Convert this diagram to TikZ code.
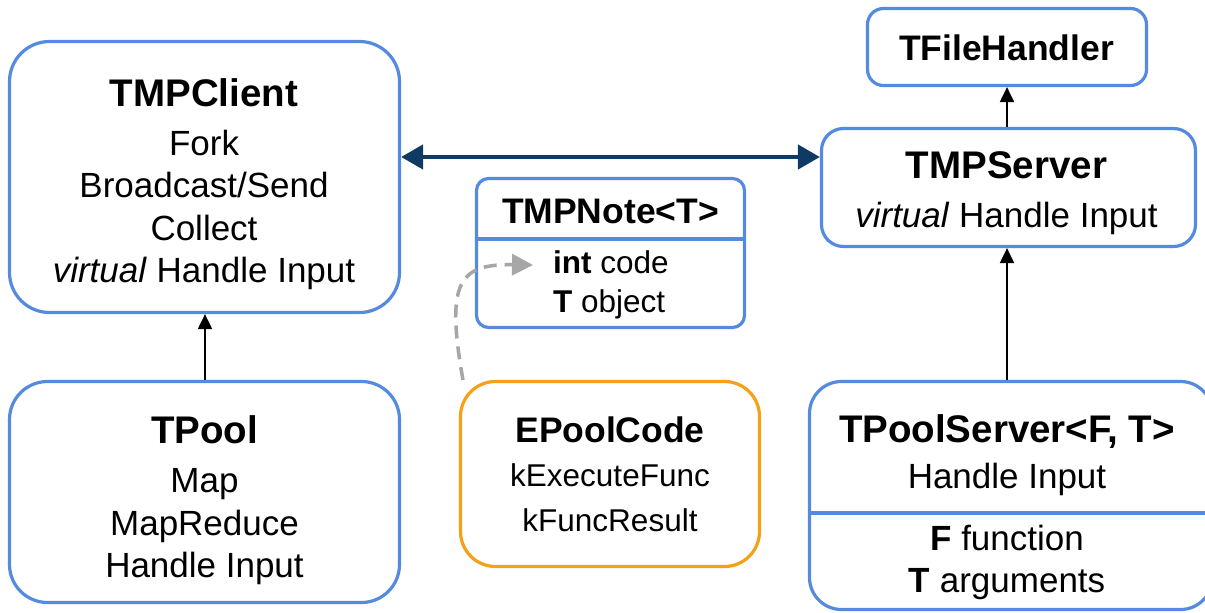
\documentclass[tikz,border=0pt]{standalone}
\usepackage{fontspec}
\setmainfont{Liberation Sans}
\usetikzlibrary{arrows.meta}
\definecolor{boxblue}{RGB}{84,139,222}
\definecolor{boxorange}{RGB}{245,160,22}
\definecolor{linknavy}{RGB}{14,58,100}
\definecolor{notegray}{RGB}{166,166,166}
\tikzset{
  box/.style={draw=boxblue, line width=3.2pt, fill=white, inner sep=0pt},
  enumbox/.style={box, draw=boxorange},
  divider/.style={draw=boxblue, line width=3.2pt, shorten <=1.6pt, shorten >=1.6pt},
  bigtitle/.style={font=\fontsize{38.5}{46}\selectfont\bfseries, anchor=base, inner sep=0pt},
  midtitle/.style={font=\fontsize{35.5}{42}\selectfont\bfseries, anchor=base, inner sep=0pt},
  body/.style={font=\fontsize{35}{42}\selectfont, anchor=base, inner sep=0pt},
  smallbody/.style={font=\fontsize{31.5}{38}\selectfont, anchor=base, inner sep=0pt},
  inherit/.style={-{Triangle[length=15pt,width=14pt]}, line width=2pt, black},
  link/.style={{Triangle[length=22pt,width=24pt]}-{Triangle[length=22pt,width=24pt]}, line width=4.5pt, linknavy},
  noteref/.style={dash pattern=on 13pt off 8pt, line width=3.5pt, notegray, -{Triangle[length=21pt,width=21pt]}}
}
\begin{document}
\begin{tikzpicture}[x=1pt,y=-1pt]
\useasboundingbox (0,0) rectangle (1205,613);

% class boxes
\node[box, rounded corners=40pt, minimum width=390pt, minimum height=271pt] (client) at (204.5,177) {};
\node[box, rounded corners=38pt, minimum width=390pt, minimum height=221pt] (pool) at (204.5,492) {};
\node[box, rounded corners=12pt, minimum width=268pt, minimum height=149pt] (note) at (610.5,253) {};
\node[enumbox, rounded corners=35pt, minimum width=299pt, minimum height=185pt] (code) at (610,474) {};
\node[box, rounded corners=16pt, minimum width=279pt, minimum height=77pt] (file) at (1007,47) {};
\node[box, rounded corners=22pt, minimum width=374pt, minimum height=118pt] (server) at (1008.5,187.5) {};
\node[box, rounded corners=32pt, minimum width=403pt, minimum height=228pt] (poolserver) at (1011,495.5) {};

% compartment separators
\draw[divider] (note.west |- 0,239) -- (note.east |- 0,239);
\draw[divider] (poolserver.west |- 0,513) -- (poolserver.east |- 0,513);

% TMPClient
\node[bigtitle] (client-name) at (204,106) {TMPClient};
\node[body] (client-m1) at (204,155) {Fork};
\node[body] (client-m2) at (204,197) {Broadcast/Send};
\node[body] (client-m3) at (204,240) {Collect};
\node[body] (client-m4) at (204,282) {\textit{virtual} Handle Input};

% TPool
\node[bigtitle] (pool-name) at (204.5,443) {TPool};
\node[body] (pool-m1) at (204.5,492) {Map};
\node[body] (pool-m2) at (204.5,535) {MapReduce};
\node[body] (pool-m3) at (204.5,577) {Handle Input};

% TMPNote<T>
\node[midtitle] (note-name) at (610.5,223) {TMPNote<T>};
\node[smallbody, anchor=base west] (note-f1) at (553,273) {\textbf{int} code};
\node[smallbody, anchor=base west] (note-f2) at (553,312) {\textbf{T} object};

% EPoolCode
\node[midtitle] (code-name) at (610,442) {EPoolCode};
\node[smallbody] (code-v1) at (610,486) {kExecuteFunc};
\node[smallbody] (code-v2) at (610,531) {kFuncResult};

% TFileHandler
\node[midtitle] (file-name) at (1006.5,60) {TFileHandler};

% TMPServer
\node[bigtitle] (server-name) at (1006.5,178) {TMPServer};
\node[body] (server-m1) at (1006.5,227) {\textit{virtual} Handle Input};

% TPoolServer<F, T>
\node[bigtitle] (poolserver-name) at (1007,442) {TPoolServer<F, T>};
\node[body] (poolserver-m1) at (1007,488) {Handle Input};
\node[body] (poolserver-f1) at (1007,550) {\textbf{F} function};
\node[body] (poolserver-f2) at (1007,592) {\textbf{T} arguments};

% connectors
\draw[inherit] (pool.north -| 205,0) -- (client.south -| 205,0);
\draw[inherit] (server.north -| 1007,0) -- (file.south -| 1007,0);
\draw[inherit] (poolserver.north -| 1007,0) -- (server.south -| 1007,0);
\draw[link] (client.east |- 0,157) -- (server.west |- 0,157);

\coordinate (ref-start) at (463,380);
\coordinate (ref-end) at (533,265);
\draw[noteref] (ref-start) .. controls (445,280) and (460,264) .. (ref-end);
\end{tikzpicture}
\end{document}
